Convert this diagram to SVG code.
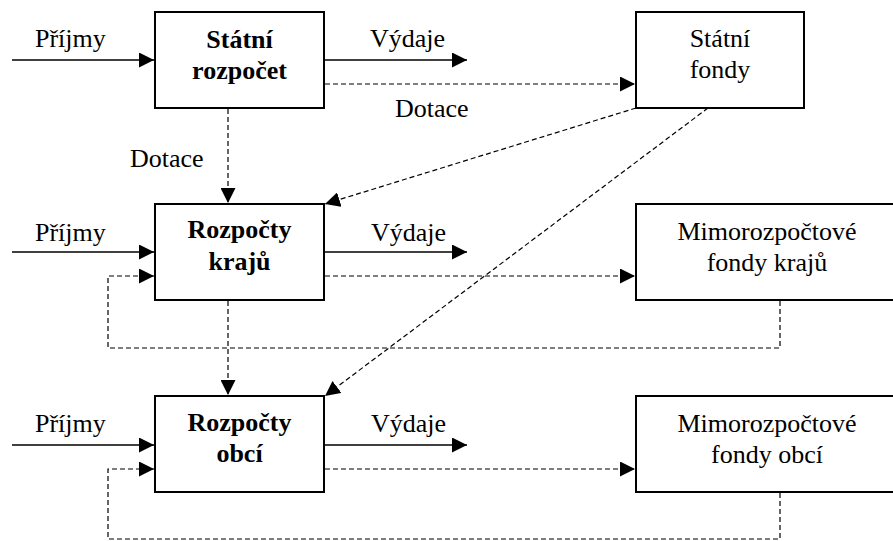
<svg xmlns="http://www.w3.org/2000/svg" width="893" height="541" viewBox="0 0 893 541" font-family="'Liberation Serif', 'DejaVu Serif', serif">
  <style>
    .box { fill: #ffffff; stroke: #000000; stroke-width: 2; }
    text { font-family: 'Liberation Serif', 'DejaVu Serif', serif; font-size: 26px; fill: #000000; }
    .bold { font-weight: bold; }
    .mid { text-anchor: middle; }
    .solid { fill: none; stroke: #000000; stroke-width: 1.4; }
    .dash { fill: none; stroke: #000000; stroke-width: 1.2; stroke-dasharray: 5 3; }
  </style>
  <defs>
    <marker id="arrow" markerUnits="userSpaceOnUse" markerWidth="15" markerHeight="15" refX="15" refY="7.5" orient="auto">
      <path d="M0,0 L15,7.5 L0,15 Z" fill="#000000"/>
    </marker>
  </defs>
  <rect width="893" height="541" fill="#ffffff"/>

  <!-- connectors -->
  <g id="connectors">
    <!-- income / expenditure flows -->
    <line class="solid" x1="12" y1="60" x2="154" y2="60" marker-end="url(#arrow)"/>
    <line class="solid" x1="325" y1="60" x2="467" y2="60" marker-end="url(#arrow)"/>
    <line class="solid" x1="12" y1="252" x2="154" y2="252" marker-end="url(#arrow)"/>
    <line class="solid" x1="325" y1="252" x2="467" y2="252" marker-end="url(#arrow)"/>
    <line class="solid" x1="12" y1="445" x2="154" y2="445" marker-end="url(#arrow)"/>
    <line class="solid" x1="325" y1="445" x2="467" y2="445" marker-end="url(#arrow)"/>

    <!-- transfers to funds -->
    <line class="dash" x1="325" y1="84" x2="635" y2="84" marker-end="url(#arrow)"/>
    <line class="dash" x1="325" y1="276" x2="635" y2="276" marker-end="url(#arrow)"/>
    <line class="dash" x1="325" y1="469" x2="635" y2="469" marker-end="url(#arrow)"/>

    <!-- grants downwards -->
    <line class="dash" x1="228" y1="109" x2="228" y2="203" marker-end="url(#arrow)"/>
    <line class="dash" x1="228" y1="301" x2="228" y2="395" marker-end="url(#arrow)"/>

    <!-- grants from state funds -->
    <line class="dash" x1="636" y1="108" x2="325" y2="204" marker-end="url(#arrow)"/>
    <line class="dash" x1="708" y1="108" x2="325" y2="396" marker-end="url(#arrow)"/>

    <!-- returns from off-budget funds -->
    <polyline class="dash" points="780,301 780,348 108,348 108,276 154,276" marker-end="url(#arrow)"/>
    <polyline class="dash" points="780,493 780,539 108,539 108,469 154,469" marker-end="url(#arrow)"/>

    <!-- flow labels -->
    <text x="35" y="47">Příjmy</text>
    <text x="370" y="47">Výdaje</text>
    <text x="395" y="117">Dotace</text>
    <text x="130" y="167">Dotace</text>
    <text x="35" y="241">Příjmy</text>
    <text x="371" y="241">Výdaje</text>
    <text x="35" y="432">Příjmy</text>
    <text x="371" y="432">Výdaje</text>
  </g>

  <!-- nodes -->
  <g id="statni-rozpocet">
    <rect class="box" x="155" y="12" width="169" height="96"/>
    <text class="bold mid" x="239.5" y="48">Státní</text>
    <text class="bold mid" x="239.5" y="79">rozpočet</text>
  </g>
  <g id="statni-fondy">
    <rect class="box" x="636" y="12" width="168" height="96"/>
    <text class="mid" x="720" y="47">Státní</text>
    <text class="mid" x="720" y="78">fondy</text>
  </g>
  <g id="rozpocty-kraju">
    <rect class="box" x="155" y="204" width="169" height="96"/>
    <text class="bold mid" x="239.5" y="238">Rozpočty</text>
    <text class="bold mid" x="239.5" y="270">krajů</text>
  </g>
  <g id="fondy-kraju">
    <rect class="box" x="636" y="204" width="264" height="96"/>
    <text class="mid" x="767" y="240">Mimorozpočtové</text>
    <text class="mid" x="767" y="271">fondy krajů</text>
  </g>
  <g id="rozpocty-obci">
    <rect class="box" x="155" y="396" width="169" height="96"/>
    <text class="bold mid" x="239.5" y="431">Rozpočty</text>
    <text class="bold mid" x="239.5" y="462">obcí</text>
  </g>
  <g id="fondy-obci">
    <rect class="box" x="636" y="396" width="264" height="96"/>
    <text class="mid" x="767" y="432">Mimorozpočtové</text>
    <text class="mid" x="767" y="463">fondy obcí</text>
  </g>
</svg>
